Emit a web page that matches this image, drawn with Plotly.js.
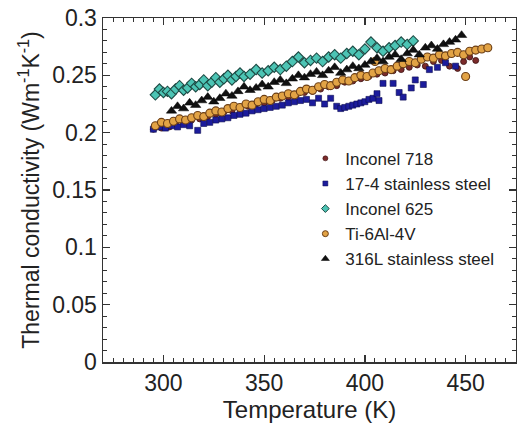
<!DOCTYPE html>
<html>
<head>
<meta charset="utf-8">
<script src="https://cdn.plot.ly/plotly-3.0.1.min.js"></script>
<style>html,body{margin:0;padding:0;background:#fff;overflow:hidden;}</style>
</head>
<body>
<div id="chart" style="width:517px;height:432px;"></div>
<script>
const seriesNames = ["Inconel 718", "17-4 stainless steel", "Inconel 625", "Ti-6Al-4V", "316L stainless steel"];

const in718_T = [295,297,299,301,303,306,310,314,318,322,326,330,334,338,342,346,350,354,358,362,366,370,374,378,382,386,390,394,398,402,406,410,414,418,422,426,430,434,438,442,446,449,452,455];
const in718_k = [0.203,0.206,0.204,0.207,0.205,0.208,0.209,0.211,0.212,0.214,0.216,0.218,0.219,0.221,0.223,0.225,0.226,0.228,0.230,0.231,0.233,0.235,0.236,0.238,0.240,0.241,0.244,0.245,0.247,0.249,0.251,0.252,0.254,0.255,0.257,0.259,0.258,0.262,0.263,0.258,0.256,0.262,0.266,0.263];

const ss174_T = [295,298,301,304,307,310,313,317,320,323,326,329,332,335,338,341,344,347,350,353,356,359,362,365,368,371,374,377,380,383,386,388,390,392,394,396,398,400,402,404,406,407,409,414,417,419,423,425,429,432,436,440,445];
const ss174_k = [0.203,0.205,0.204,0.206,0.205,0.207,0.206,0.202,0.208,0.209,0.211,0.212,0.213,0.215,0.216,0.217,0.219,0.220,0.221,0.222,0.223,0.224,0.226,0.227,0.228,0.229,0.226,0.230,0.225,0.230,0.223,0.221,0.222,0.223,0.224,0.225,0.226,0.227,0.229,0.230,0.234,0.228,0.243,0.243,0.235,0.231,0.239,0.246,0.242,0.255,0.257,0.261,0.258];

const in625_T = [296,298,300,302,304,306,308,310,312,314,316,318,320,322,324,326,328,330,332,334,336,338,340,343,346,349,352,355,358,361,364,367,370,373,376,379,382,385,388,391,394,397,400,403,406,409,412,415,418,421,424];
const in625_k = [0.233,0.238,0.235,0.236,0.234,0.238,0.241,0.237,0.239,0.243,0.240,0.242,0.246,0.241,0.244,0.248,0.244,0.247,0.250,0.246,0.249,0.252,0.249,0.251,0.255,0.252,0.254,0.257,0.255,0.258,0.262,0.266,0.261,0.263,0.265,0.262,0.266,0.268,0.265,0.269,0.271,0.268,0.273,0.279,0.274,0.271,0.274,0.276,0.279,0.277,0.280];

const ti64_T = [296,299,302,305,308,311,314,317,320,323,326,329,332,335,338,341,344,347,350,353,356,359,362,365,368,371,374,377,380,383,386,389,392,395,398,401,404,405,407,410,413,416,419,422,425,428,431,434,437,440,443,446,449,450,452,455,458,461];
const ti64_k = [0.206,0.209,0.208,0.210,0.212,0.211,0.213,0.215,0.214,0.217,0.219,0.218,0.221,0.223,0.222,0.225,0.224,0.227,0.229,0.228,0.231,0.232,0.234,0.233,0.236,0.238,0.237,0.240,0.242,0.241,0.244,0.246,0.245,0.248,0.250,0.249,0.252,0.262,0.254,0.256,0.255,0.258,0.260,0.262,0.261,0.264,0.266,0.265,0.268,0.267,0.269,0.270,0.268,0.249,0.271,0.272,0.273,0.274];

const ss316_T = [304,307,310,313,316,319,322,325,328,331,334,337,340,343,346,349,352,355,358,361,364,367,370,373,376,379,382,385,388,391,394,397,400,403,406,409,412,415,418,421,424,427,430,433,436,439,442,445,448];
const ss316_k = [0.219,0.223,0.221,0.226,0.224,0.228,0.231,0.227,0.230,0.234,0.232,0.236,0.240,0.237,0.239,0.242,0.240,0.244,0.246,0.243,0.247,0.250,0.248,0.251,0.253,0.250,0.254,0.257,0.252,0.255,0.258,0.256,0.259,0.262,0.265,0.262,0.266,0.268,0.264,0.269,0.272,0.268,0.274,0.276,0.273,0.277,0.279,0.281,0.285];

const xTickVals = [300, 350, 400, 450];
const yTickVals = [0, 0.05, 0.1, 0.15, 0.2, 0.25, 0.3];
const yTickText = ["0", "0.05", "0.1", "0.15", "0.2", "0.25", "0.3"];

const styles = [
  {symbol: 'circle', size: 6, color: '#7b2b2b', line: {color: '#3a1010', width: 0.8}},
  {symbol: 'square', size: 6, color: '#1c1c9c', line: {color: '#0c0c50', width: 0.6}},
  {symbol: 'diamond', size: 8, color: '#4cc4b4', line: {color: '#1d4a44', width: 1.1}},
  {symbol: 'circle', size: 8, color: '#e2a345', line: {color: '#6b3e16', width: 1.1}},
  {symbol: 'triangle-up', size: 9, color: '#111111', line: {color: '#000', width: 0.5}}
];
const legendStyles = [
  {symbol: 'circle', size: 5, color: '#7b2b2b', line: {color: '#3a1010', width: 0.6}},
  {symbol: 'square', size: 5, color: '#1c1c9c', line: {color: '#0c0c50', width: 0.5}},
  {symbol: 'diamond', size: 6, color: '#4cc4b4', line: {color: '#1d4a44', width: 1}},
  {symbol: 'circle', size: 6, color: '#e2a345', line: {color: '#6b3e16', width: 1}},
  {symbol: 'triangle-up', size: 7, color: '#111111', line: {color: '#000', width: 0.5}}
];

const xs = [in718_T, ss174_T, in625_T, ti64_T, ss316_T];
const ys = [in718_k, ss174_k, in625_k, ti64_k, ss316_k];

const traces = [];
for (let i = 0; i < 5; i++) {
  traces.push({x: xs[i], y: ys[i], name: seriesNames[i], type: 'scatter', mode: 'markers',
    marker: styles[i], showlegend: false});
}
for (let i = 0; i < 5; i++) {
  traces.push({x: [null], y: [null], name: seriesNames[i], type: 'scatter', mode: 'markers',
    marker: legendStyles[i], showlegend: true});
}

const axisFont = {family: 'Liberation Sans, Arial, sans-serif', size: 23, color: '#222'};

const layout = {
  width: 517, height: 432,
  margin: {l: 103, r: 1, t: 18, b: 70},
  paper_bgcolor: '#fff', plot_bgcolor: '#fff',
  showlegend: true,
  legend: {
    x: 0.49, y: 0.643, xanchor: 'left', yanchor: 'top',
    bgcolor: 'rgba(0,0,0,0)', borderwidth: 0,
    font: {family: 'Liberation Sans, Arial, sans-serif', size: 17, color: '#222'},
    traceorder: 'normal'
  },
  xaxis: {
    range: [270, 475],
    tickvals: xTickVals,
    ticks: 'inside', ticklen: 7, tickwidth: 1.3, tickcolor: '#333',
    minor: {dtick: 5, ticks: 'inside', ticklen: 4, tickcolor: '#333', tickwidth: 1},
    showline: true, linecolor: '#333', linewidth: 1.5, mirror: 'ticks',
    showgrid: false, zeroline: false,
    tickfont: axisFont,
    title: {text: 'Temperature (K)', font: {family: 'Liberation Sans, Arial, sans-serif', size: 24, color: '#222'}, standoff: 6}
  },
  yaxis: {
    range: [0, 0.3],
    tickvals: yTickVals, ticktext: yTickText,
    ticks: 'inside', ticklen: 7, tickwidth: 1.3, tickcolor: '#333',
    minor: {dtick: 0.01, ticks: 'inside', ticklen: 4, tickcolor: '#333', tickwidth: 1},
    showline: true, linecolor: '#333', linewidth: 1.5, mirror: 'ticks',
    showgrid: false, zeroline: false,
    tickfont: axisFont,
    title: {text: 'Thermal conductivity (Wm<sup>-1</sup>K<sup>-1</sup>)', font: {family: 'Liberation Sans, Arial, sans-serif', size: 23, color: '#222'}, standoff: 6}
  }
};

Plotly.newPlot('chart', traces, layout, {displayModeBar: false, staticPlot: true});
</script>
</body>
</html>
